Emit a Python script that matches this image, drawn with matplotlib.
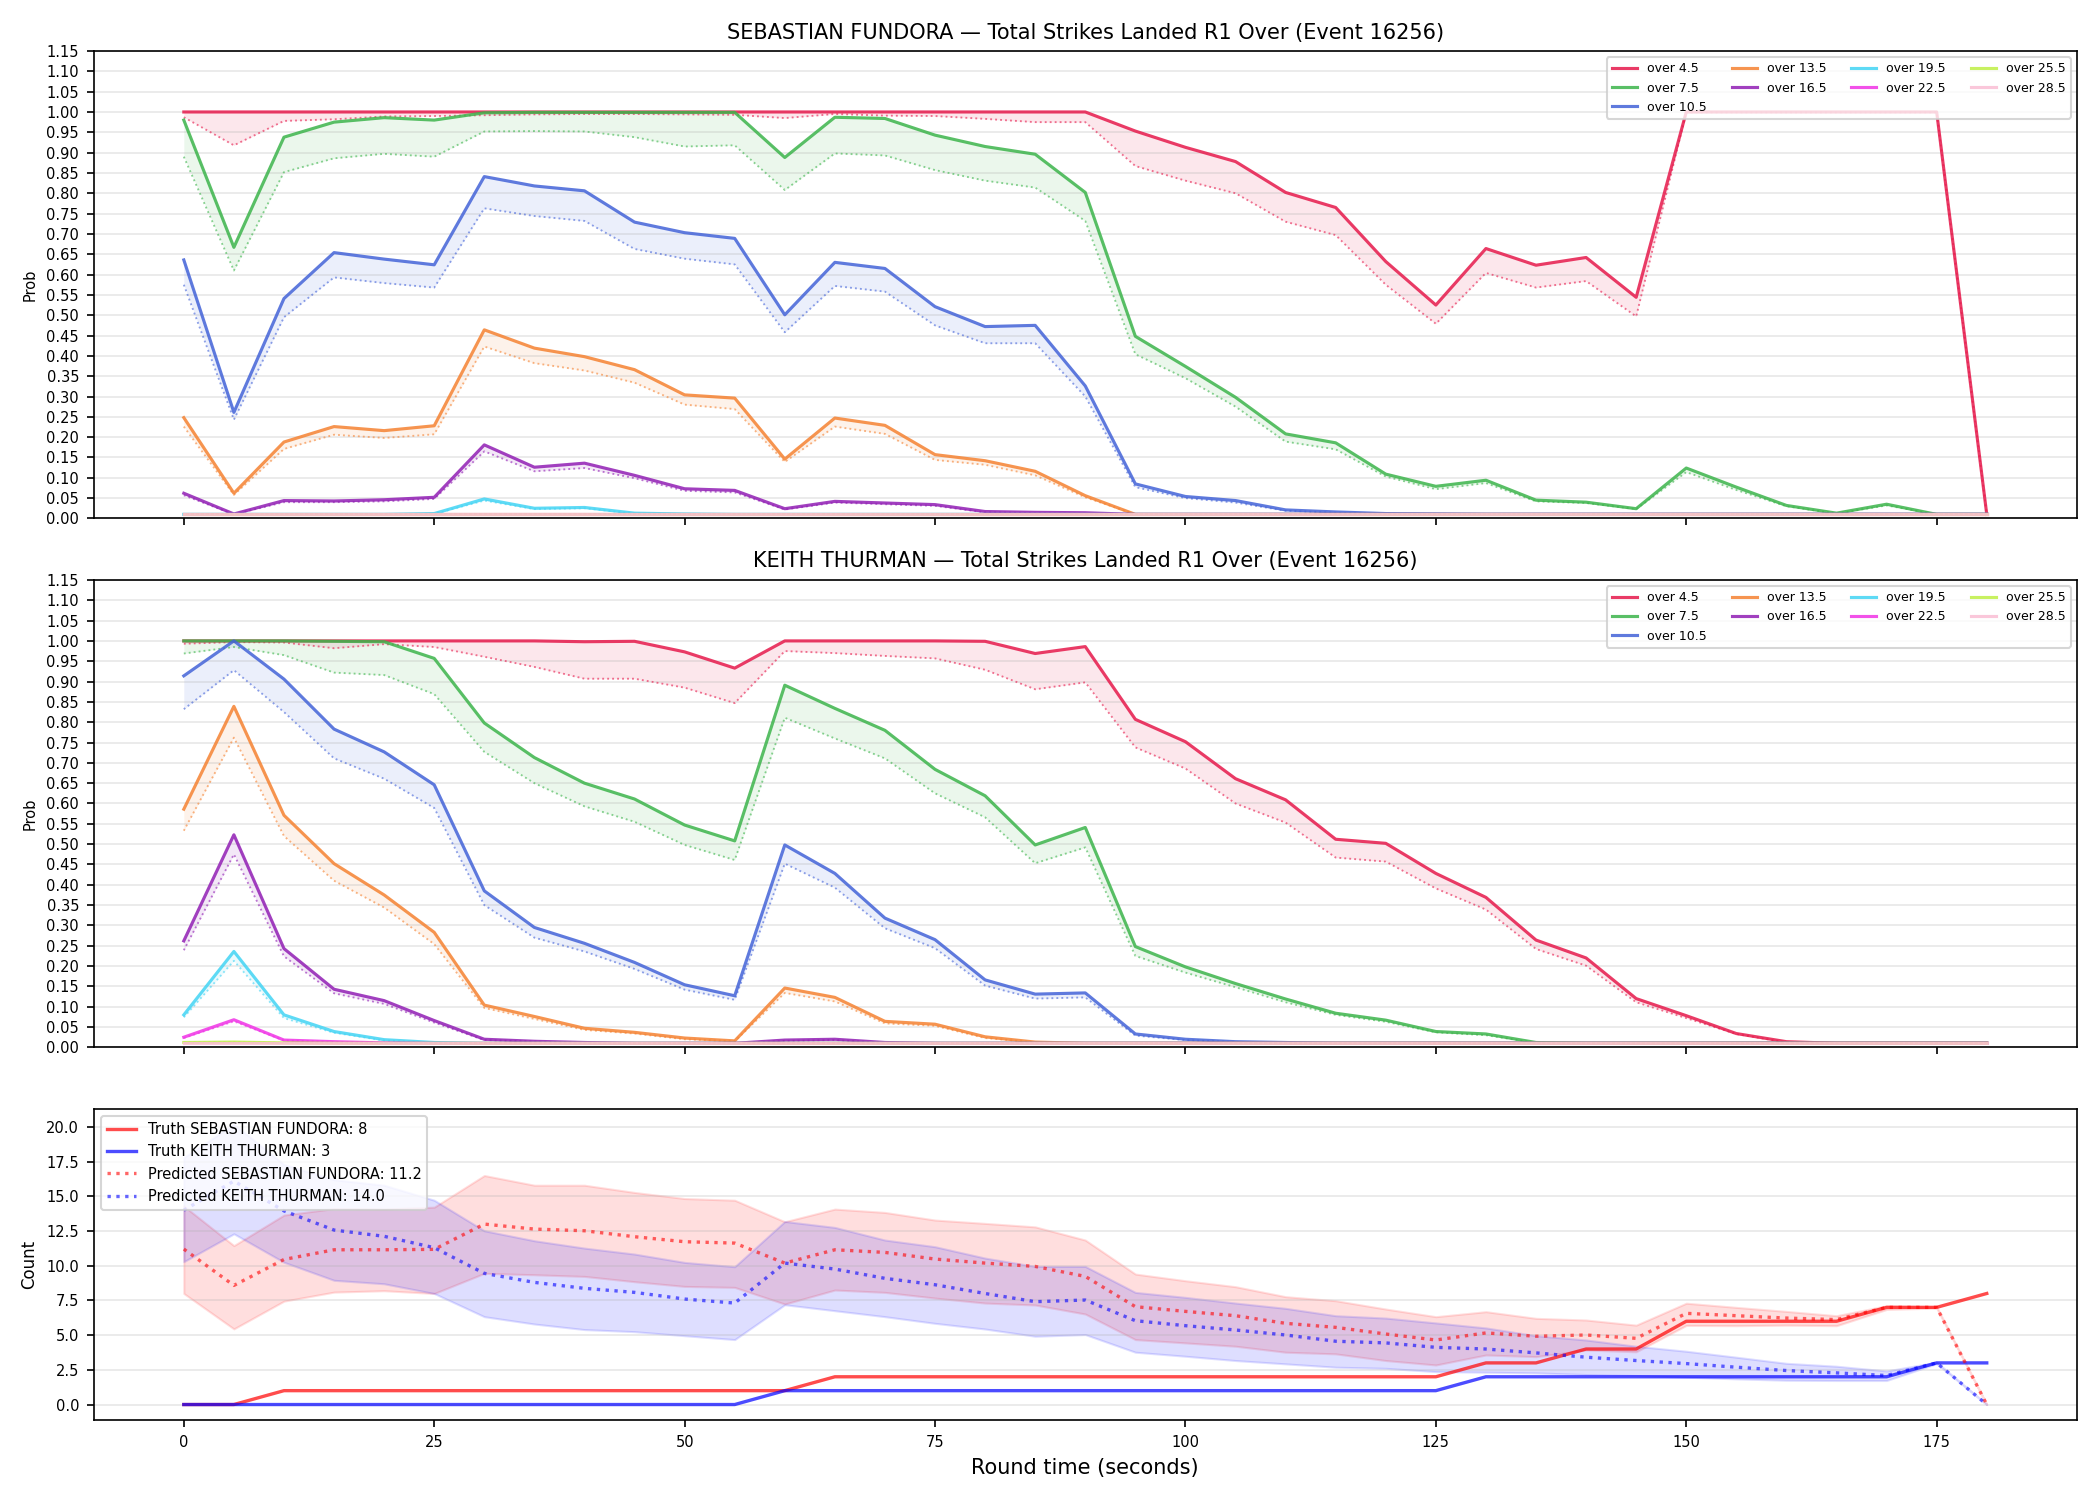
import matplotlib
matplotlib.use("Agg")
import matplotlib.pyplot as plt
import numpy as np

# round time in seconds
times = list(range(0, 185, 5))

thresholds = ["over 4.5", "over 7.5", "over 10.5", "over 13.5", "over 16.5",
              "over 19.5", "over 22.5", "over 25.5", "over 28.5"]
colors = ["#e6194B", "#3cb44b", "#4363d8", "#f58231", "#911eb4",
          "#42d4f4", "#f032e6", "#bfef45", "#fabed4"]

# ---- SEBASTIAN FUNDORA: P(over), solid = current, dotted = lower ----
f45 = [1.0, 1.0, 1.0, 1.0, 1.0, 1.0, 1.0, 1.0, 1.0, 1.0, 1.0, 1.0, 1.0, 1.0, 1.0, 1.0, 1.0, 1.0, 1.0,
       0.953, 0.913, 0.878, 0.802, 0.765, 0.632, 0.525, 0.664, 0.623, 0.642, 0.544,
       1.0, 1.0, 1.0, 1.0, 1.0, 1.0, 0.01]
f45_lo = [0.987, 0.918, 0.978, 0.982, 0.989, 0.99, 0.992, 0.994, 0.995, 0.995, 0.994, 0.993, 0.985,
          0.995, 0.991, 0.99, 0.983, 0.975, 0.975, 0.867, 0.831, 0.80, 0.73, 0.697, 0.575, 0.479,
          0.604, 0.568, 0.584, 0.497, 0.999, 0.999, 0.999, 0.999, 0.999, 0.999, 0.01]
f75 = [0.980, 0.667, 0.938, 0.975, 0.986, 0.980, 0.998, 0.999, 0.999, 0.999, 0.999, 0.999, 0.888,
       0.987, 0.984, 0.943, 0.915, 0.896, 0.802, 0.448, 0.374, 0.298, 0.208, 0.186, 0.109, 0.079,
       0.094, 0.045, 0.040, 0.024, 0.124, 0.077, 0.032, 0.013, 0.035, 0.01, 0.01]
f75_lo = [0.89, 0.61, 0.852, 0.886, 0.897, 0.890, 0.952, 0.953, 0.952, 0.938, 0.915, 0.918, 0.808,
          0.898, 0.893, 0.857, 0.831, 0.814, 0.732, 0.404, 0.345, 0.275, 0.189, 0.170, 0.103, 0.072,
          0.087, 0.042, 0.038, 0.023, 0.114, 0.07, 0.03, 0.012, 0.032, 0.01, 0.01]
f105 = [0.636, 0.261, 0.541, 0.654, 0.638, 0.624, 0.841, 0.818, 0.806, 0.729, 0.703, 0.689, 0.501,
        0.630, 0.615, 0.521, 0.472, 0.475, 0.326, 0.085, 0.054, 0.044, 0.021, 0.016, 0.012, 0.011,
        0.01, 0.01, 0.01, 0.01, 0.01, 0.01, 0.01, 0.01, 0.01, 0.01, 0.01]
f105_lo = [0.575, 0.243, 0.495, 0.593, 0.579, 0.568, 0.763, 0.744, 0.732, 0.663, 0.639, 0.625, 0.458,
           0.572, 0.558, 0.475, 0.431, 0.431, 0.30, 0.077, 0.05, 0.039, 0.019, 0.014, 0.011, 0.01,
           0.01, 0.01, 0.01, 0.01, 0.01, 0.01, 0.01, 0.01, 0.01, 0.01, 0.01]
f135 = [0.248, 0.062, 0.188, 0.226, 0.216, 0.228, 0.464, 0.419, 0.398, 0.366, 0.304, 0.296, 0.146,
        0.247, 0.229, 0.157, 0.142, 0.116, 0.056, 0.01, 0.01, 0.01, 0.01, 0.01, 0.01, 0.01,
        0.01, 0.01, 0.01, 0.01, 0.01, 0.01, 0.01, 0.01, 0.01, 0.01, 0.01]
f135_lo = [0.226, 0.058, 0.171, 0.206, 0.198, 0.207, 0.423, 0.382, 0.364, 0.334, 0.280, 0.269, 0.139,
           0.226, 0.208, 0.144, 0.132, 0.106, 0.052, 0.01, 0.01, 0.01, 0.01, 0.01, 0.01, 0.01,
           0.01, 0.01, 0.01, 0.01, 0.01, 0.01, 0.01, 0.01, 0.01, 0.01, 0.01]
f165 = [0.062, 0.011, 0.044, 0.043, 0.046, 0.052, 0.181, 0.126, 0.136, 0.106, 0.073, 0.069, 0.024,
        0.042, 0.038, 0.034, 0.017, 0.015, 0.014, 0.01, 0.01, 0.01, 0.01, 0.01, 0.01, 0.01,
        0.01, 0.01, 0.01, 0.01, 0.01, 0.01, 0.01, 0.01, 0.01, 0.01, 0.01]
f165_lo = [0.057, 0.01, 0.040, 0.040, 0.042, 0.048, 0.165, 0.116, 0.124, 0.099, 0.068, 0.064, 0.022,
           0.039, 0.035, 0.031, 0.015, 0.013, 0.012, 0.01, 0.01, 0.01, 0.01, 0.01, 0.01, 0.01,
           0.01, 0.01, 0.01, 0.01, 0.01, 0.01, 0.01, 0.01, 0.01, 0.01, 0.01]
f195 = [0.01, 0.01, 0.01, 0.01, 0.01, 0.012, 0.048, 0.025, 0.027, 0.013, 0.011, 0.01, 0.01,
        0.01, 0.01, 0.01, 0.01, 0.01, 0.01, 0.01, 0.01, 0.01, 0.01, 0.01, 0.01, 0.01,
        0.01, 0.01, 0.01, 0.01, 0.01, 0.01, 0.01, 0.01, 0.01, 0.01, 0.01]
f195_lo = [0.01, 0.01, 0.01, 0.01, 0.01, 0.011, 0.044, 0.023, 0.025, 0.012, 0.01, 0.01, 0.01,
           0.01, 0.01, 0.01, 0.01, 0.01, 0.01, 0.01, 0.01, 0.01, 0.01, 0.01, 0.01, 0.01,
           0.01, 0.01, 0.01, 0.01, 0.01, 0.01, 0.01, 0.01, 0.01, 0.01, 0.01]
f_floor = [0.01, 0.01, 0.01, 0.01, 0.01, 0.01, 0.01, 0.01, 0.01, 0.01, 0.01, 0.01, 0.01,
           0.01, 0.01, 0.01, 0.01, 0.01, 0.01, 0.01, 0.01, 0.01, 0.01, 0.01, 0.01, 0.01,
           0.01, 0.01, 0.01, 0.01, 0.01, 0.01, 0.01, 0.01, 0.01, 0.01, 0.01]

# ---- KEITH THURMAN ----
k45 = [1.0, 1.0, 1.0, 1.0, 1.0, 1.0, 1.0, 1.0, 0.998, 0.999, 0.973, 0.933, 1.0, 1.0, 1.0, 1.0,
       0.999, 0.969, 0.986, 0.807, 0.752, 0.661, 0.609, 0.512, 0.502, 0.428, 0.369, 0.264, 0.22,
       0.12, 0.078, 0.034, 0.014, 0.01, 0.01, 0.01, 0.01]
k45_lo = [0.993, 0.997, 0.996, 0.982, 0.992, 0.985, 0.961, 0.936, 0.907, 0.907, 0.885, 0.847, 0.975,
          0.970, 0.963, 0.957, 0.929, 0.881, 0.898, 0.738, 0.686, 0.60, 0.553, 0.467, 0.457, 0.391,
          0.339, 0.242, 0.201, 0.111, 0.072, 0.033, 0.012, 0.01, 0.01, 0.01, 0.01]
k75 = [1.0, 1.0, 1.0, 0.999, 0.998, 0.957, 0.798, 0.713, 0.65, 0.611, 0.547, 0.508, 0.891, 0.834,
       0.780, 0.684, 0.619, 0.498, 0.541, 0.248, 0.198, 0.157, 0.119, 0.084, 0.067, 0.039, 0.033,
       0.012, 0.01, 0.01, 0.01, 0.01, 0.01, 0.01, 0.01, 0.01, 0.01]
k75_lo = [0.969, 0.985, 0.965, 0.922, 0.916, 0.869, 0.727, 0.65, 0.593, 0.555, 0.498, 0.461, 0.811,
          0.76, 0.711, 0.625, 0.566, 0.453, 0.492, 0.225, 0.184, 0.148, 0.111, 0.080, 0.063, 0.037,
          0.030, 0.011, 0.01, 0.01, 0.01, 0.01, 0.01, 0.01, 0.01, 0.01, 0.01]
k105 = [0.914, 1.0, 0.906, 0.783, 0.727, 0.646, 0.385, 0.295, 0.256, 0.209, 0.154, 0.127, 0.498,
        0.428, 0.318, 0.265, 0.166, 0.131, 0.134, 0.033, 0.02, 0.014, 0.012, 0.01, 0.01, 0.01,
        0.01, 0.01, 0.01, 0.01, 0.01, 0.01, 0.01, 0.01, 0.01, 0.01, 0.01]
k105_lo = [0.832, 0.928, 0.825, 0.711, 0.661, 0.589, 0.35, 0.27, 0.236, 0.193, 0.142, 0.117, 0.452,
           0.393, 0.293, 0.244, 0.152, 0.12, 0.123, 0.029, 0.018, 0.013, 0.011, 0.01, 0.01, 0.01,
           0.01, 0.01, 0.01, 0.01, 0.01, 0.01, 0.01, 0.01, 0.01, 0.01, 0.01]
k135 = [0.586, 0.839, 0.571, 0.452, 0.375, 0.283, 0.104, 0.076, 0.047, 0.037, 0.023, 0.016, 0.146,
        0.123, 0.064, 0.057, 0.026, 0.013, 0.01, 0.01, 0.01, 0.01, 0.01, 0.01, 0.01, 0.01,
        0.01, 0.01, 0.01, 0.01, 0.01, 0.01, 0.01, 0.01, 0.01, 0.01, 0.01]
k135_lo = [0.533, 0.762, 0.52, 0.41, 0.344, 0.254, 0.097, 0.07, 0.043, 0.034, 0.02, 0.015, 0.134,
           0.113, 0.059, 0.053, 0.023, 0.012, 0.01, 0.01, 0.01, 0.01, 0.01, 0.01, 0.01, 0.01,
           0.01, 0.01, 0.01, 0.01, 0.01, 0.01, 0.01, 0.01, 0.01, 0.01, 0.01]
k165 = [0.262, 0.523, 0.243, 0.143, 0.115, 0.066, 0.02, 0.015, 0.012, 0.01, 0.01, 0.01, 0.018,
        0.02, 0.012, 0.01, 0.01, 0.01, 0.01, 0.01, 0.01, 0.01, 0.01, 0.01, 0.01, 0.01,
        0.01, 0.01, 0.01, 0.01, 0.01, 0.01, 0.01, 0.01, 0.01, 0.01, 0.01]
k165_lo = [0.239, 0.475, 0.224, 0.133, 0.107, 0.061, 0.018, 0.014, 0.011, 0.01, 0.01, 0.01, 0.016,
           0.018, 0.011, 0.01, 0.01, 0.01, 0.01, 0.01, 0.01, 0.01, 0.01, 0.01, 0.01, 0.01,
           0.01, 0.01, 0.01, 0.01, 0.01, 0.01, 0.01, 0.01, 0.01, 0.01, 0.01]
k195 = [0.080, 0.236, 0.080, 0.039, 0.019, 0.012, 0.01, 0.01, 0.01, 0.01, 0.01, 0.01, 0.01,
        0.01, 0.01, 0.01, 0.01, 0.01, 0.01, 0.01, 0.01, 0.01, 0.01, 0.01, 0.01, 0.01,
        0.01, 0.01, 0.01, 0.01, 0.01, 0.01, 0.01, 0.01, 0.01, 0.01, 0.01]
k195_lo = [0.074, 0.213, 0.072, 0.036, 0.017, 0.011, 0.01, 0.01, 0.01, 0.01, 0.01, 0.01, 0.01,
           0.01, 0.01, 0.01, 0.01, 0.01, 0.01, 0.01, 0.01, 0.01, 0.01, 0.01, 0.01, 0.01,
           0.01, 0.01, 0.01, 0.01, 0.01, 0.01, 0.01, 0.01, 0.01, 0.01, 0.01]
k225 = [0.025, 0.068, 0.018, 0.014, 0.011, 0.01, 0.01, 0.01, 0.01, 0.01, 0.01, 0.01, 0.01,
        0.01, 0.01, 0.01, 0.01, 0.01, 0.01, 0.01, 0.01, 0.01, 0.01, 0.01, 0.01, 0.01,
        0.01, 0.01, 0.01, 0.01, 0.01, 0.01, 0.01, 0.01, 0.01, 0.01, 0.01]
k225_lo = [0.023, 0.064, 0.017, 0.013, 0.011, 0.01, 0.01, 0.01, 0.01, 0.01, 0.01, 0.01, 0.01,
           0.01, 0.01, 0.01, 0.01, 0.01, 0.01, 0.01, 0.01, 0.01, 0.01, 0.01, 0.01, 0.01,
           0.01, 0.01, 0.01, 0.01, 0.01, 0.01, 0.01, 0.01, 0.01, 0.01, 0.01]
k255 = [0.012, 0.013, 0.011, 0.01, 0.01, 0.01, 0.01, 0.01, 0.01, 0.01, 0.01, 0.01, 0.01,
        0.01, 0.01, 0.01, 0.01, 0.01, 0.01, 0.01, 0.01, 0.01, 0.01, 0.01, 0.01, 0.01,
        0.01, 0.01, 0.01, 0.01, 0.01, 0.01, 0.01, 0.01, 0.01, 0.01, 0.01]
k_floor = f_floor

# ---- counts panel ----
truth_f = [0, 0, 1, 1, 1, 1, 1, 1, 1, 1, 1, 1, 1, 2, 2, 2, 2, 2, 2, 2, 2, 2, 2, 2, 2, 2,
           3, 3, 4, 4, 6, 6, 6, 6, 7, 7, 8]
truth_k = [0, 0, 0, 0, 0, 0, 0, 0, 0, 0, 0, 0, 1, 1, 1, 1, 1, 1, 1, 1, 1, 1, 1, 1, 1, 1,
           2, 2, 2, 2, 2, 2, 2, 2, 2, 3, 3]
pred_f = [11.2, 8.58, 10.45, 11.15, 11.15, 11.18, 13.0, 12.64, 12.52, 12.09, 11.73, 11.63, 10.19,
          11.15, 10.96, 10.48, 10.19, 9.95, 9.23, 7.05, 6.71, 6.40, 5.85, 5.56, 5.08, 4.65,
          5.16, 4.92, 5.01, 4.77, 6.57, 6.40, 6.23, 6.12, 7.0, 7.0, 0.0]
pred_k = [14.0, 16.1, 13.95, 12.57, 12.12, 11.3, 9.45, 8.8, 8.37, 8.08, 7.6, 7.31, 10.19,
          9.76, 9.09, 8.63, 8.0, 7.41, 7.53, 6.04, 5.68, 5.37, 5.01, 4.56, 4.44, 4.12,
          4.0, 3.72, 3.41, 3.17, 2.95, 2.69, 2.45, 2.28, 2.09, 3.0, 0.0]
band_f_lo = [8.0, 5.45, 7.45, 8.1, 8.2, 8.0, 9.45, 9.35, 9.23, 8.85, 8.51, 8.44, 7.24,
             8.25, 8.08, 7.67, 7.31, 7.17, 6.52, 4.68, 4.44, 4.2, 3.77, 3.65, 3.17, 2.85,
             3.57, 3.45, 3.93, 3.8, 5.7, 5.68, 5.72, 5.68, 6.85, 6.95, 0.0]
band_f_hi = [14.3, 11.45, 13.65, 14.12, 14.08, 14.22, 16.5, 15.8, 15.8, 15.28, 14.84, 14.72, 13.17,
             14.08, 13.84, 13.29, 13.05, 12.8, 11.85, 9.4, 8.92, 8.49, 7.77, 7.48, 6.88, 6.33,
             6.69, 6.21, 6.09, 5.72, 7.3, 7.0, 6.71, 6.4, 7.12, 7.05, 0.0]
band_k_lo = [10.29, 12.3, 10.25, 8.95, 8.7, 8.0, 6.33, 5.8, 5.4, 5.25, 4.96, 4.68, 7.19,
             6.76, 6.33, 5.85, 5.44, 4.92, 5.04, 3.77, 3.48, 3.17, 2.93, 2.69, 2.61, 2.37,
             2.33, 2.28, 2.16, 2.09, 1.97, 1.85, 1.75, 1.73, 1.73, 2.95, 0.0]
band_k_hi = [17.8, 20.2, 17.3, 16.2, 15.8, 14.72, 12.52, 11.8, 11.27, 10.84, 10.24, 9.93, 13.19,
             12.76, 11.85, 11.37, 10.55, 9.95, 9.95, 8.08, 7.72, 7.31, 6.93, 6.4, 6.23, 5.88,
             5.52, 4.96, 4.65, 4.2, 3.84, 3.41, 2.97, 2.76, 2.42, 3.05, 0.0]

fund_series = [(f45, f45_lo), (f75, f75_lo), (f105, f105_lo), (f135, f135_lo), (f165, f165_lo),
               (f195, f195_lo), (f_floor, f_floor), (f_floor, f_floor), (f_floor, f_floor)]
keith_series = [(k45, k45_lo), (k75, k75_lo), (k105, k105_lo), (k135, k135_lo), (k165, k165_lo),
                (k195, k195_lo), (k225, k225_lo), (k255, k255), (k_floor, k_floor)]


def prob_panel(ax, series, title):
    for (hi, lo), label, c in zip(series, thresholds, colors):
        ax.plot(times, hi, color=c, lw=1.5, alpha=0.85, label=label)
        ax.plot(times, lo, color=c, lw=0.9, ls=':', alpha=0.6)
        ax.fill_between(times, lo, hi, color=c, alpha=0.1, lw=0)
    ax.set_ylim(0, 1.15)
    ax.set_yticks(np.arange(0, 1.151, 0.05))
    ax.yaxis.set_major_formatter(matplotlib.ticker.FormatStrFormatter('%.2f'))
    ax.set_ylabel("Prob", fontsize=7)
    ax.set_title(title, fontsize=10)
    ax.grid(axis='y', alpha=0.3)
    ax.tick_params(labelsize=7)
    ax.tick_params(axis='x', labelbottom=False)
    ax.legend(loc='upper right', ncol=4, fontsize=6)


fig, axes = plt.subplots(3, 1, figsize=(14, 10), dpi=150, sharex=True,
                         gridspec_kw={'height_ratios': [3, 3, 2]})
fig.subplots_adjust(left=0.0446, right=0.989, top=0.966, bottom=0.053, hspace=0.148)

prob_panel(axes[0], fund_series, "SEBASTIAN FUNDORA — Total Strikes Landed R1 Over (Event 16256)")
prob_panel(axes[1], keith_series, "KEITH THURMAN — Total Strikes Landed R1 Over (Event 16256)")

ax = axes[2]
ax.plot(times, truth_f, color='red', lw=1.6, alpha=0.7, label=f"Truth SEBASTIAN FUNDORA: {truth_f[-1]}")
ax.plot(times, truth_k, color='blue', lw=1.6, alpha=0.7, label=f"Truth KEITH THURMAN: {truth_k[-1]}")
ax.plot(times, pred_f, color='red', lw=1.6, ls=':', alpha=0.6,
        label=f"Predicted SEBASTIAN FUNDORA: {pred_f[0]:.1f}")
ax.plot(times, pred_k, color='blue', lw=1.6, ls=':', alpha=0.6,
        label=f"Predicted KEITH THURMAN: {pred_k[0]:.1f}")
ax.fill_between(times, band_f_lo, band_f_hi, color='red', alpha=0.13)
ax.fill_between(times, band_k_lo, band_k_hi, color='blue', alpha=0.13)
ax.set_ylim(-1.15, 21.3)
ax.set_yticks(np.arange(0, 20.1, 2.5))
ax.set_ylabel("Count", fontsize=8)
ax.set_xlabel("Round time (seconds)", fontsize=10)
ax.grid(axis='y', alpha=0.3)
ax.tick_params(labelsize=7)
ax.legend(loc='upper left', fontsize=7)

fig.savefig("out.png", dpi=150)
